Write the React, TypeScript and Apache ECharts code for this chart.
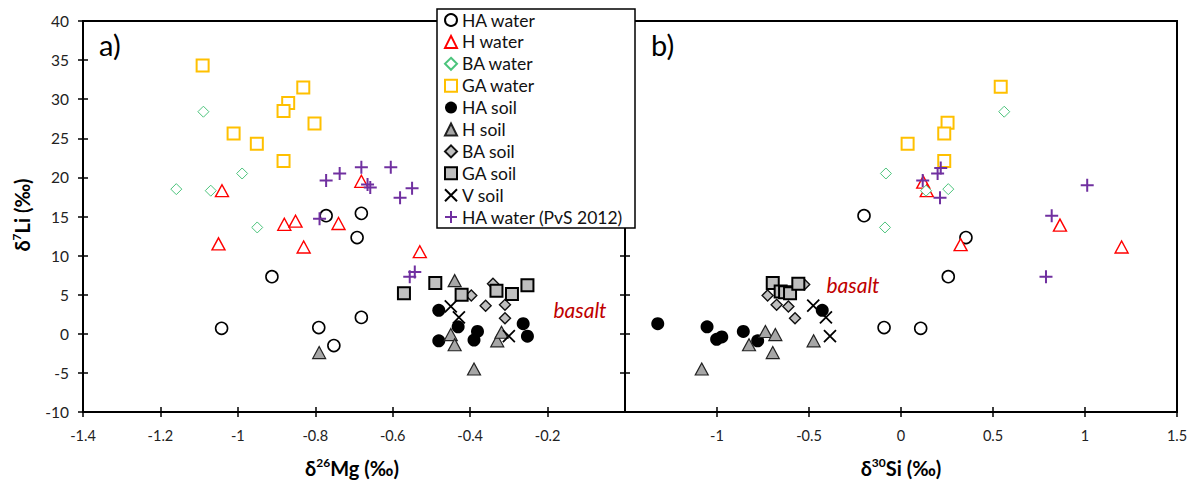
import React, { useEffect, useRef } from "react";
import * as echarts from "echarts";

// ---- axis ranges / ticks ----
const yRange = [-10, 40, 5];
const mgRange = [-1.4, 0, 0.2];
const siRange = [-1.5, 1.5, 0.5];

// ---- series names ----
const seriesNames = [
  "HA water",
  "H water",
  "BA water",
  "GA water",
  "HA soil",
  "H soil",
  "BA soil",
  "GA soil",
  "V soil",
  "HA water (PvS 2012)",
];

// ---- panel a) δ26Mg vs δ7Li ----
const haWaterMg = [[-1.042, 0.7], [-0.912, 7.3], [-0.791, 0.8], [-0.752, -1.5], [-0.681, 2.1], [-0.692, 12.3], [-0.681, 15.4], [-0.772, 15.1]];
const hWaterMg = [[-1.041, 18.3], [-0.681, 19.5], [-1.05, 11.5], [-0.88, 14.0], [-0.851, 14.4], [-0.83, 11.1], [-0.74, 14.1], [-0.53, 10.5]];
const baWaterMg = [[-1.089, 28.4], [-1.159, 18.5], [-1.07, 18.3], [-0.989, 20.5], [-0.95, 13.6]];
const gaWaterMg = [[-1.091, 34.3], [-0.831, 31.5], [-0.87, 29.5], [-0.882, 28.5], [-0.802, 26.9], [-1.011, 25.6], [-0.951, 24.3], [-0.882, 22.1]];
const haSoilMg = [[-0.481, 3.0], [-0.481, -0.9], [-0.431, 0.9], [-0.381, 0.3], [-0.39, -0.8], [-0.263, 1.3], [-0.252, -0.3]];
const hSoilMg = [[-0.79, -2.4], [-0.44, 6.8], [-0.45, -0.1], [-0.44, -1.4], [-0.39, -4.5], [-0.33, -0.9], [-0.319, 0.2]];
const baSoilMg = [[-0.341, 6.4], [-0.397, 4.9], [-0.36, 3.6], [-0.31, 3.7], [-0.31, 2.0]];
const gaSoilMg = [[-0.571, 5.2], [-0.49, 6.5], [-0.422, 5.0], [-0.332, 5.5], [-0.292, 5.1], [-0.252, 6.2]];
const vSoilMg = [[-0.45, 3.5], [-0.429, 2.1], [-0.3, -0.3]];
const pvsMg = [[-0.772, 19.6], [-0.737, 20.5], [-0.681, 21.3], [-0.665, 19.1], [-0.658, 18.7], [-0.605, 21.3], [-0.55, 18.6], [-0.581, 17.4], [-0.789, 14.7], [-0.556, 7.3], [-0.543, 7.9]];

// ---- panel b) δ30Si vs δ7Li ----
const haWaterSi = [[-0.201, 15.1], [-0.092, 0.8], [0.107, 0.7], [0.257, 7.3], [0.353, 12.3]];
const hWaterSi = [[0.121, 19.4], [0.14, 18.3], [0.324, 11.4], [0.864, 13.9], [1.199, 11.1]];
const baWaterSi = [[-0.087, 13.6], [-0.082, 20.5], [0.561, 28.4], [0.257, 18.5], [0.136, 18.3]];
const gaWaterSi = [[0.542, 31.6], [0.036, 24.3], [0.253, 27.0], [0.235, 25.6], [0.235, 22.1]];
const haSoilSi = [[-1.322, 1.3], [-1.054, 0.9], [-1.002, -0.7], [-0.974, -0.4], [-0.857, 0.3], [-0.779, -0.9], [-0.428, 3.0]];
const hSoilSi = [[-1.083, -4.5], [-0.826, -1.4], [-0.737, 0.3], [-0.683, -0.1], [-0.697, -2.4], [-0.475, -0.9]];
const baSoilSi = [[-0.725, 4.9], [-0.676, 3.7], [-0.612, 3.5], [-0.576, 2.0], [-0.526, 6.3]];
const gaSoilSi = [[-0.697, 6.5], [-0.654, 5.4], [-0.63, 5.3], [-0.603, 5.2], [-0.558, 6.4]];
const vSoilSi = [[-0.477, 3.6], [-0.408, 2.1], [-0.386, -0.3]];
const pvsSi = [[0.118, 19.6], [0.199, 20.5], [0.216, 21.2], [0.212, 17.4], [1.012, 19.0], [0.819, 15.1], [0.788, 7.3]];

const mgData = [haWaterMg, hWaterMg, baWaterMg, gaWaterMg, haSoilMg, hSoilMg, baSoilMg, gaSoilMg, vSoilMg, pvsMg];
const siData = [haWaterSi, hWaterSi, baWaterSi, gaWaterSi, haSoilSi, hSoilSi, baSoilSi, gaSoilSi, vSoilSi, pvsSi];

const FONT = "Lato, 'Liberation Sans', sans-serif";
const CROSS = "path://M0,0L10,10M10,0L0,10";
const PLUS = "path://M5,0L5,10M0,5L10,5";

const styles: any[] = [
  { symbol: "circle", symbolSize: 12, itemStyle: { color: "#fff", borderColor: "#000", borderWidth: 1.6, opacity: 1 } },
  { symbol: "triangle", symbolSize: [13, 12], itemStyle: { color: "#fff", borderColor: "#ff0000", borderWidth: 1.4, opacity: 1 } },
  { symbol: "diamond", symbolSize: [11, 11], itemStyle: { color: "#fff", borderColor: "#4cc47c", borderWidth: 1, opacity: 1 } },
  { symbol: "rect", symbolSize: 12, itemStyle: { color: "#fff", borderColor: "#ffc000", borderWidth: 2, opacity: 1 } },
  { symbol: "circle", symbolSize: 13, itemStyle: { color: "#000", borderColor: "#000", borderWidth: 0, opacity: 1 } },
  { symbol: "triangle", symbolSize: [13, 12], itemStyle: { color: "#a6a6a6", borderColor: "#222", borderWidth: 1.2, opacity: 1 } },
  { symbol: "diamond", symbolSize: [11, 11], itemStyle: { color: "#bfbfbf", borderColor: "#111", borderWidth: 1.4, opacity: 1 } },
  { symbol: "rect", symbolSize: 12, itemStyle: { color: "#bfbfbf", borderColor: "#000", borderWidth: 2, opacity: 1 } },
  { symbol: CROSS, symbolSize: 12, itemStyle: { color: "rgba(0,0,0,0)", borderColor: "#000", borderWidth: 1.8, opacity: 1 } },
  { symbol: PLUS, symbolSize: 13, itemStyle: { color: "rgba(0,0,0,0)", borderColor: "#7030a0", borderWidth: 2, opacity: 1 } },
];

function makeX(range: number[], gridIndex: number, hideMin: boolean, hideMax: boolean) {
  const base = {
    type: "value",
    gridIndex,
    min: range[0],
    max: range[1],
    interval: range[2],
    position: "bottom",
    splitLine: { show: false },
  };
  return [
    {
      ...base,
      axisLine: { show: true, onZero: false, lineStyle: { color: "#000", width: 2 } },
      axisTick: { show: true, inside: false, length: 5, lineStyle: { color: "#000", width: 1.5 } },
      axisLabel: {
        show: true,
        margin: 16,
        color: "#222",
        fontSize: 14.5,
        fontFamily: FONT,
        showMinLabel: !hideMin,
        showMaxLabel: !hideMax,
        formatter: (v: number) => String(Math.round(v * 10) / 10),
      },
    },
    {
      ...base,
      axisLine: { show: false, onZero: false },
      axisTick: { show: true, inside: true, length: 5, lineStyle: { color: "#000", width: 1.5 } },
      axisLabel: { show: false },
    },
  ];
}

function makeY(gridIndex: number, showLabels: boolean) {
  const base = {
    type: "value",
    gridIndex,
    min: yRange[0],
    max: yRange[1],
    interval: yRange[2],
    position: "left",
    splitLine: { show: false },
  };
  return [
    {
      ...base,
      axisLine: { show: true, onZero: false, lineStyle: { color: "#000", width: 2 } },
      axisTick: { show: true, inside: false, length: 5, lineStyle: { color: "#000", width: 1.5 } },
      axisLabel: { show: showLabels, margin: 14, color: "#222", fontSize: 15.5, fontFamily: FONT },
    },
    {
      ...base,
      axisLine: { show: false, onZero: false },
      axisTick: { show: true, inside: true, length: 5, lineStyle: { color: "#000", width: 1.5 } },
      axisLabel: { show: false },
    },
  ];
}

export default function App() {
  const ref = useRef<HTMLDivElement>(null);

  useEffect(() => {
    if (!ref.current) return;
    const chart = echarts.init(ref.current, undefined, { renderer: "svg" });

    const series: any[] = [];
    seriesNames.forEach((name, i) => {
      series.push({
        type: "scatter",
        name,
        xAxisIndex: 0,
        yAxisIndex: 0,
        data: mgData[i],
        z: 2,
        ...styles[i],
      });
      series.push({
        type: "scatter",
        name,
        xAxisIndex: 2,
        yAxisIndex: 2,
        data: siData[i],
        z: 2,
        ...styles[i],
      });
    });

    const sup = { fontSize: 12, fontWeight: "bold", fontFamily: FONT, color: "#000", verticalAlign: "top", lineHeight: 13 };
    const big = { fontSize: 20, fontWeight: "bold", fontFamily: FONT, color: "#000", lineHeight: 23 };

    chart.setOption({
      animation: false,
      backgroundColor: "#fff",
      grid: [
        { left: 83, top: 21, width: 542, height: 391, show: true, borderColor: "#000", borderWidth: 2, backgroundColor: "transparent" },
        { left: 625, top: 21, width: 552, height: 391, show: true, borderColor: "#000", borderWidth: 2, backgroundColor: "transparent" },
      ],
      xAxis: [...makeX(mgRange, 0, false, true), ...makeX(siRange, 1, true, false)],
      yAxis: [...makeY(0, true), ...makeY(1, false)],
      legend: {
        orient: "vertical",
        left: 439,
        top: 6,
        padding: 5,
        itemWidth: 12,
        itemHeight: 12,
        itemGap: 3.9,
        data: seriesNames,
        selectedMode: false,
        textStyle: { fontSize: 17.5, fontFamily: FONT, color: "#111" },
        z: 5,
      },
      graphic: [
        { type: "rect", z: 4, shape: { x: 437, y: 9, width: 198, height: 219 }, style: { fill: "#fff", stroke: "#000", lineWidth: 1.5 } },
        { type: "text", z: 4, x: 99, y: 30, style: { text: "a)", fontSize: 29, fontFamily: FONT, fill: "#000" } },
        { type: "text", z: 4, x: 651, y: 30, style: { text: "b)", fontSize: 29, fontFamily: FONT, fill: "#000" } },
        { type: "text", z: 4, x: 580, y: 309, style: { text: "basalt", fontSize: 21, fontStyle: "italic", fontFamily: FONT, fill: "#c00000", align: "center", verticalAlign: "middle" } },
        { type: "text", z: 4, x: 853, y: 284, style: { text: "basalt", fontSize: 21, fontStyle: "italic", fontFamily: FONT, fill: "#c00000", align: "center", verticalAlign: "middle" } },
        {
          type: "text", z: 4, x: 352, y: 468,
          style: { text: "{b|δ}{s|26}{b|Mg (‰)}", rich: { b: big, s: sup }, align: "center", verticalAlign: "middle" },
        },
        {
          type: "text", z: 4, x: 901, y: 468,
          style: { text: "{b|δ}{s|30}{b|Si (‰)}", rich: { b: big, s: sup }, align: "center", verticalAlign: "middle" },
        },
        {
          type: "text", z: 4, x: 22, y: 215, rotation: Math.PI / 2,
          style: { text: "{b|δ}{s|7}{b|Li (‰)}", rich: { b: big, s: sup }, align: "center", verticalAlign: "middle" },
        },
      ],
      series,
    });

    return () => chart.dispose();
  }, []);

  return <div ref={ref} style={{ position: "absolute", left: 0, top: 0, width: 1195, height: 487 }} />;
}
